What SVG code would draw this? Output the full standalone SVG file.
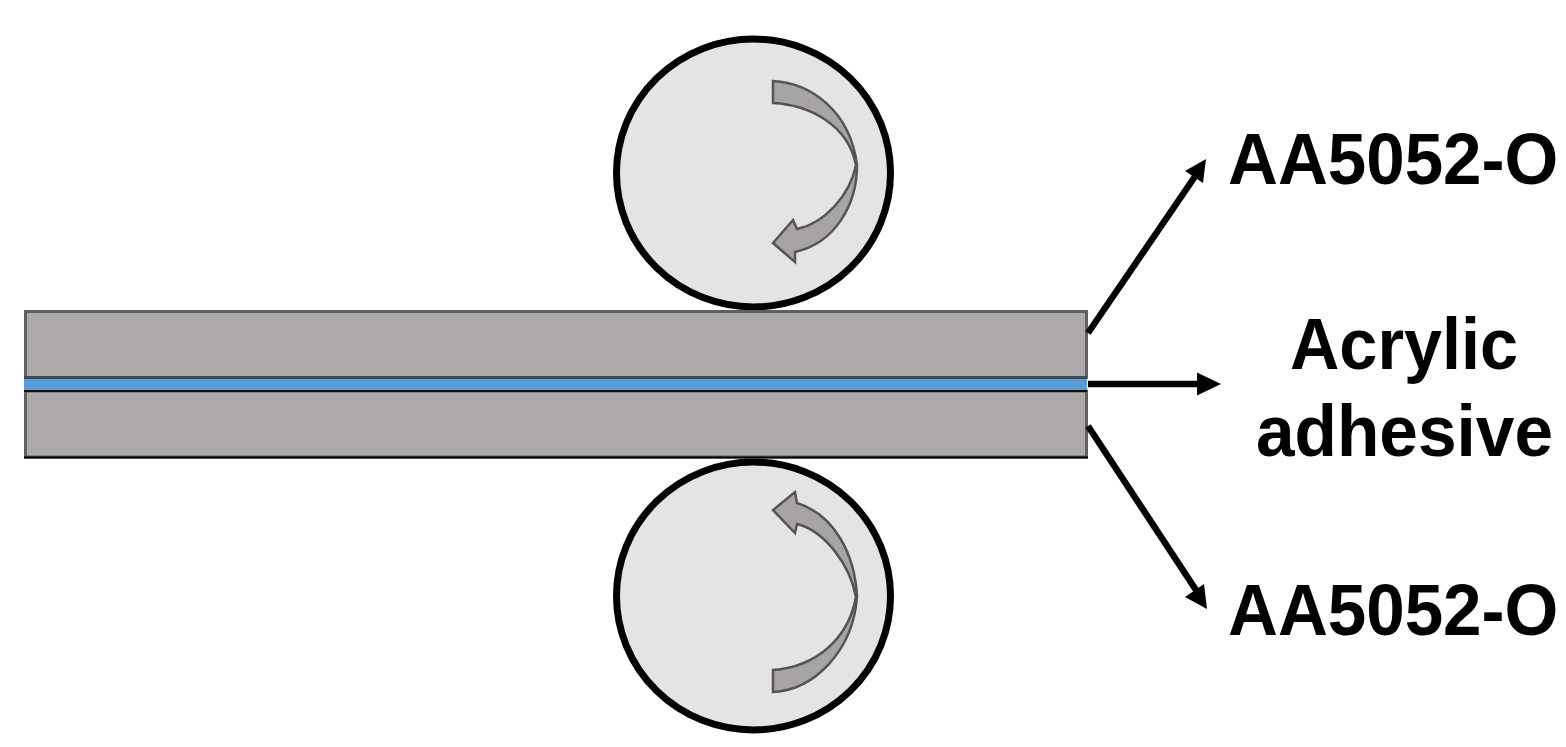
<svg xmlns="http://www.w3.org/2000/svg" width="1566" height="747" viewBox="0 0 1566 747">
<style>
.roller{fill:#e4e4e4;stroke:#000;stroke-width:7}
.sheet{fill:#aeaaaa;stroke:#606060;stroke-width:3}
.curl{fill:#a8a4a4;stroke:#555;stroke-width:2.5;stroke-linejoin:miter}
.conn{stroke:#000;stroke-width:6.5;fill:none}
.head{fill:#000}
text{font-family:"Liberation Sans",Arial,sans-serif;font-weight:700;font-size:72px;fill:#000}
</style>
<rect width="1566" height="747" fill="#fff"/>
<g id="roller-top"><ellipse class="roller" cx="753.5" cy="173" rx="137" ry="134"/>
<path class="curl" d="M773 81C810 83 850 110 857 165C857 205 835 243 795 252L795 262L773 243L793 220L797 229C825 223 850 195 856 165C848 125 810 105 773 103Z"/></g>
<g id="roller-bottom"><ellipse class="roller" cx="753.5" cy="596" rx="137" ry="134"/>
<path class="curl" d="M773 692C815 690 853 650 857 597C855 555 835 515 797 503L795 492L773 510L795 533L797 524C825 531 850 565 856 597C848 640 815 667 773 670Z"/></g>
<g id="sheet-top"><rect class="sheet" x="25.500" y="311.500" width="1061" height="66"/></g>
<g id="sheet-bottom"><rect class="sheet" x="25.500" y="391" width="1061" height="66"/><path d="M24 457.500H1088" stroke="#000" stroke-width="2" fill="none"/></g>
<g id="adhesive"><rect x="24" y="379" width="1063" height="11" fill="#5b9bd5"/><path d="M24 377.500H1087" stroke="#3d4a58" stroke-width="3" fill="none"/><path d="M24 391H1087" stroke="#111" stroke-width="2" fill="none"/></g>
<g id="connectors">
<path class="conn" d="M1088 333L1196 175"/><path class="head" d="M1206 159L1203 183L1185 171Z"/>
<path class="conn" d="M1088 384H1202"/><path class="head" d="M1221 384L1197 372.500V395.500Z"/>
<path class="conn" d="M1088 426L1196 590"/><path class="head" d="M1207 609L1185 597L1204 584Z"/>
</g>
<g id="label-top"><text transform="translate(1228 184) scale(.96 1)">AA5052-O</text></g>
<g id="label-middle"><text x="1290" y="369" textLength="228" lengthAdjust="spacingAndGlyphs">Acrylic</text><text x="1256" y="456" textLength="297" lengthAdjust="spacingAndGlyphs">adhesive</text></g>
<g id="label-bottom"><text transform="translate(1228 635) scale(.96 1)">AA5052-O</text></g>
</svg>
